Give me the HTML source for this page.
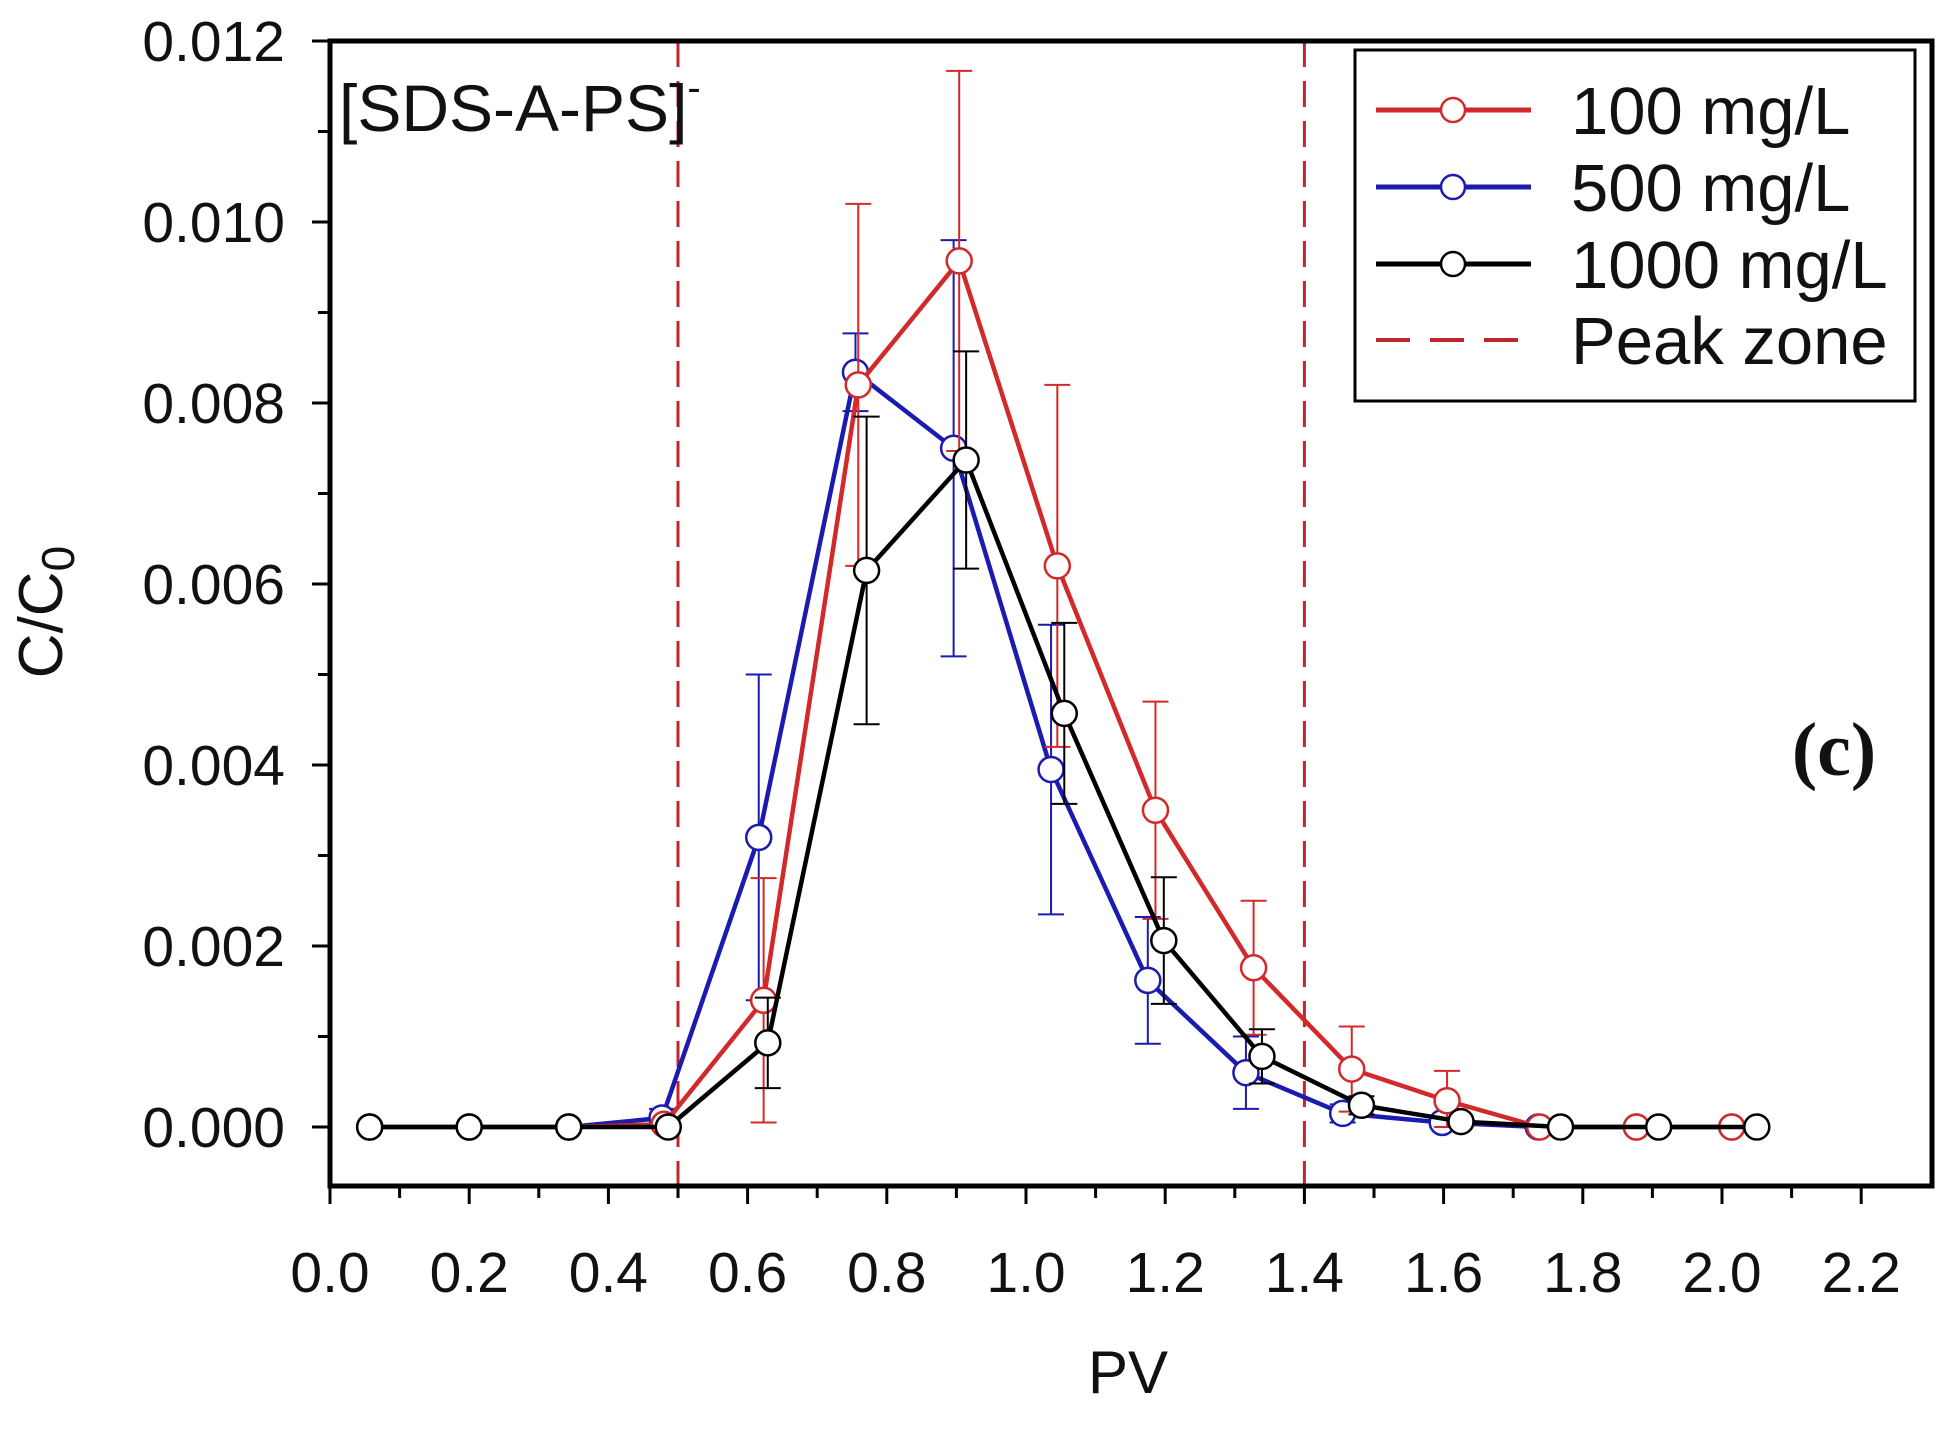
<!DOCTYPE html>
<html><head><meta charset="utf-8"><style>
html,body{margin:0;padding:0;background:#fff;}
svg{display:block;font-family:"Liberation Sans",Arial,sans-serif;}
</style></head><body>
<svg id="chart" width="1952" height="1431" viewBox="0 0 1952 1431" xmlns="http://www.w3.org/2000/svg">
<g id="grid"></g>
</svg>
<script>
const xTicks=[0.0,0.2,0.4,0.6,0.8,1.0,1.2,1.4,1.6,1.8,2.0,2.2];
const xTickLabels=["0.0","0.2","0.4","0.6","0.8","1.0","1.2","1.4","1.6","1.8","2.0","2.2"];
const yTicks=[0,0.002,0.004,0.006,0.008,0.010,0.012];
const yTickLabels=["0.000","0.002","0.004","0.006","0.008","0.010","0.012"];
const peakZone=[0.5,1.4];

const pv100=[0.057,0.2,0.343,0.48,0.623,0.759,0.904,1.045,1.186,1.327,1.468,1.605,1.738,1.877,2.014];
const c100=[0,0,0,0.00003,0.0014,0.0082,0.00957,0.0062,0.0035,0.00176,0.00064,0.00029,0,0,0];
const e100=[0,0,0,0,0.00135,0.002,0.0021,0.002,0.0012,0.00074,0.00047,0.00033,0,0,0];

const pv500=[0.057,0.2,0.343,0.477,0.616,0.755,0.896,1.036,1.175,1.316,1.455,1.598,1.736,1.877,2.014];
const c500=[0,0,0,0.0001,0.0032,0.00834,0.0075,0.00395,0.00162,0.0006,0.00015,0.00005,0,0,0];
const e500=[0,0,0,0.0001,0.0018,0.00043,0.0023,0.0016,0.0007,0.0004,0.0001,0,0,0,0];

const pv1000=[0.057,0.2,0.343,0.486,0.629,0.771,0.914,1.055,1.198,1.339,1.482,1.625,1.768,1.909,2.05];
const c1000=[0,0,0,0,0.00093,0.00615,0.00737,0.00457,0.00206,0.00078,0.00024,0.00006,0,0,0];
const e1000=[0,0,0,0,0.0005,0.0017,0.0012,0.001,0.0007,0.0003,0.0001,0,0,0,0];

const X0=330, XU=696, Y0=1127, YU=90500;
function sx(v){return X0+v*XU;}
function sy(v){return Y0-v*YU;}
const NS="http://www.w3.org/2000/svg";
const svg=document.getElementById('chart');
function mk(tag,attrs,parent){const e=document.createElementNS(NS,tag);for(const k in attrs)e.setAttribute(k,attrs[k]);(parent||svg).appendChild(e);return e;}

const L=330,R=1932,T=41,B=1186;
peakZone.forEach((p,i)=>{
  const l=mk('line',{x1:sx(p),x2:sx(p),y1:T,y2:B,stroke:'#c0272d','stroke-width':3,'stroke-dasharray':'26,14'});
  
  
});
const frame=mk('rect',{x:L,y:T,width:R-L,height:B-T,fill:'none',stroke:'#000','stroke-width':5});


for(let i=0;i<=22;i++){
  const v=i*0.1, major=i%2===0;
  const t=mk('line',{x1:sx(v),x2:sx(v),y1:B,y2:B+(major?18:12),stroke:'#000','stroke-width':3});
  
  
}
xTicks.forEach((v,i)=>{
  const t=mk('text',{x:sx(v),y:1292,'font-size':57,'text-anchor':'middle',fill:'#111'});
  t.textContent=xTickLabels[i];
  
  
});
for(let i=0;i<=12;i++){
  const v=i*0.001, major=i%2===0;
  const t=mk('line',{x1:L-(major?18:12),x2:L,y1:sy(v),y2:sy(v),stroke:'#000','stroke-width':3});
  
  
}
yTicks.forEach((v,i)=>{
  const t=mk('text',{x:285,y:sy(v)+20,'font-size':57,'text-anchor':'end',fill:'#111'});
  t.textContent=yTickLabels[i];
  
  
});
function series(pv,c,e,color,name){
  const g=mk('g',{});
  
  
  pv.forEach((x,i)=>{
    if(e[i]>0){
      const px=sx(x),t=sy(c[i]+e[i]),b=sy(Math.max(c[i]-e[i],0));
      const eb=mk('path',{d:`M${px},${t}V${b}M${px-13},${t}H${px+13}M${px-13},${b}H${px+13}`,stroke:color,'stroke-width':2,fill:'none'},g);
      
      
    }
  });
  const ln=mk('polyline',{points:pv.map((x,i)=>sx(x)+','+sy(c[i])).join(' '),fill:'none',stroke:color,'stroke-width':4.5,'stroke-linejoin':'round'},g);
  
  
  pv.forEach((x,i)=>{
    const p=mk('circle',{cx:sx(x),cy:sy(c[i]),r:12.5,fill:'#fff',stroke:color,'stroke-width':2.5},g);
    
    
  });
}
series(pv500,c500,e500,'#1b1bb0','500mgl');
series(pv100,c100,e100,'#d22a2a','100mgl');
series(pv1000,c1000,e1000,'#000','1000mgl');
</script>
<svg style="position:absolute;left:0;top:0" width="1952" height="1431">
<text x="339" y="131" font-size="66" font-family="Liberation Sans, sans-serif" fill="#111">[SDS-A-PS]<tspan dy="-30" font-size="40">-</tspan></text>
<text x="1834" y="775" font-size="76" font-weight="bold" text-anchor="middle" font-family="Liberation Serif, serif" fill="#111">(c)</text>
<text x="1128" y="1393" font-size="60" text-anchor="middle" font-family="Liberation Sans, sans-serif" fill="#111">PV</text>
<text transform="translate(62,612) rotate(-90)" font-size="62" text-anchor="middle" font-family="Liberation Sans, sans-serif" fill="#111">C/C<tspan font-size="46" dy="12">0</tspan></text>
<g>
<rect x="1355" y="50" width="560" height="351" fill="#fff" stroke="#000" stroke-width="3"/>
<g>
<line x1="1376" x2="1531" y1="110" y2="110" stroke="#d22a2a" stroke-width="5"/><circle cx="1453" cy="110" r="12" fill="#fff" stroke="#d22a2a" stroke-width="2.5"/>
<text x="1571" y="134" font-size="67" font-family="Liberation Sans, sans-serif" fill="#111">100 mg/L</text></g>
<g>
<line x1="1376" x2="1531" y1="187" y2="187" stroke="#1b1bb0" stroke-width="5"/><circle cx="1453" cy="187" r="12" fill="#fff" stroke="#1b1bb0" stroke-width="2.5"/>
<text x="1571" y="211" font-size="67" font-family="Liberation Sans, sans-serif" fill="#111">500 mg/L</text></g>
<g>
<line x1="1376" x2="1531" y1="264" y2="264" stroke="#000" stroke-width="5"/><circle cx="1453" cy="264" r="12" fill="#fff" stroke="#000" stroke-width="2.5"/>
<text x="1571" y="288" font-size="67" font-family="Liberation Sans, sans-serif" fill="#111">1000 mg/L</text></g>
<g>
<line x1="1376" x2="1531" y1="340" y2="340" stroke="#c0272d" stroke-width="4" stroke-dasharray="34,20"/>
<text x="1571" y="364" font-size="67" font-family="Liberation Sans, sans-serif" fill="#111">Peak zone</text></g>
</g>
</svg>
</body></html>
